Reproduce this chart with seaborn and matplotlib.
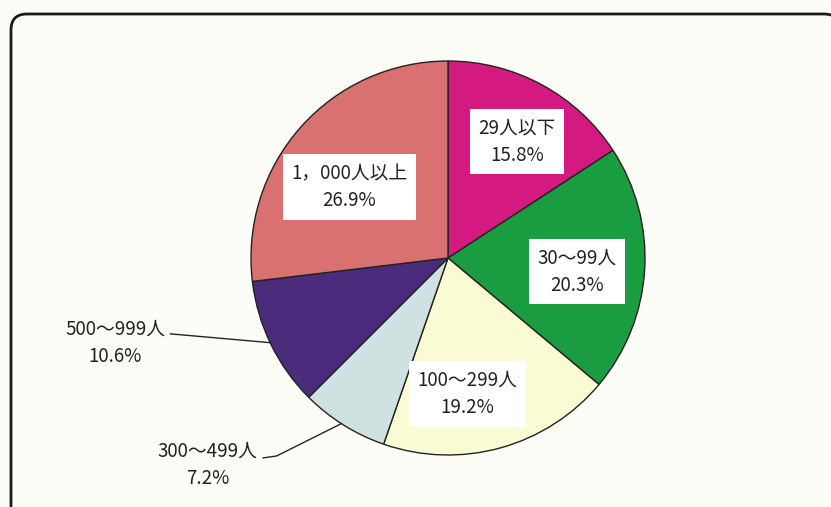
import matplotlib
matplotlib.use("Agg")
import matplotlib.pyplot as plt
import seaborn as sns
from matplotlib.patches import FancyBboxPatch

sns.set_theme(style="white")
plt.rcParams['font.family'] = ['Noto Sans CJK JP', 'DejaVu Sans']

categories = ["29人以下", "30～99人", "100～299人", "300～499人", "500～999人", "1，000人以上"]
values = [15.8, 20.3, 19.2, 7.2, 10.6, 26.9]
colors = ["#d41a80", "#1a9c40", "#fbfbd3", "#cfe2e2", "#4a2b7c", "#d8716f"]

W, H = 831, 507
fig = plt.figure(figsize=(W / 100, H / 100), dpi=100)
fig.patch.set_facecolor("#fdfdf8")

# rounded frame drawn in pixel coordinates
bg = fig.add_axes([0, 0, 1, 1])
bg.set_xlim(0, W)
bg.set_ylim(H, 0)
bg.axis("off")
bg.add_patch(FancyBboxPatch((11, 14), 840 - 11, 560, boxstyle="round,pad=0,rounding_size=16",
                            fill=False, edgecolor="#1a1a1a", linewidth=2.0, clip_on=True))

cx, cy, r = 448, 258, 197
ax = fig.add_axes([(cx - r) / W, (H - cy - r) / H, 2 * r / W, 2 * r / H])
ax.set_facecolor("none")
ax.pie(values, colors=colors, startangle=90, counterclock=False,
       wedgeprops=dict(edgecolor="#222222", linewidth=1.0))
ax.set_xlim(-1, 1)
ax.set_ylim(-1, 1)
ax.axis("off")

fs = 13.5
inside_pos = {0: (0.35, 0.59), 1: (0.655, -0.07), 2: (0.10, -0.69), 5: (-0.50, 0.36)}
for i, (px, py) in inside_pos.items():
    ax.text(px, py, f"{categories[i]}\n{values[i]:.1f}%", ha="center", va="center",
            fontsize=fs, color="#222222", linespacing=1.4,
            bbox=dict(boxstyle="square,pad=0.45", facecolor="white", edgecolor="none"))

# outside labels with leader lines
ax.text(-1.69, -0.43, f"{categories[4]}\n{values[4]:.1f}%", ha="center", va="center",
        fontsize=fs, color="#222222", linespacing=1.4, clip_on=False)
ax.plot([-1.41, -0.90], [-0.385, -0.43], color="#222222", lw=1.0, clip_on=False)

ax.text(-1.22, -1.05, f"{categories[3]}\n{values[3]:.1f}%", ha="center", va="center",
        fontsize=fs, color="#222222", linespacing=1.4, clip_on=False)
ax.plot([-0.94, -0.87, -0.54], [-1.015, -1.005, -0.84], color="#222222", lw=1.0, clip_on=False)

fig.savefig("out.png", dpi=100, facecolor=fig.get_facecolor())
